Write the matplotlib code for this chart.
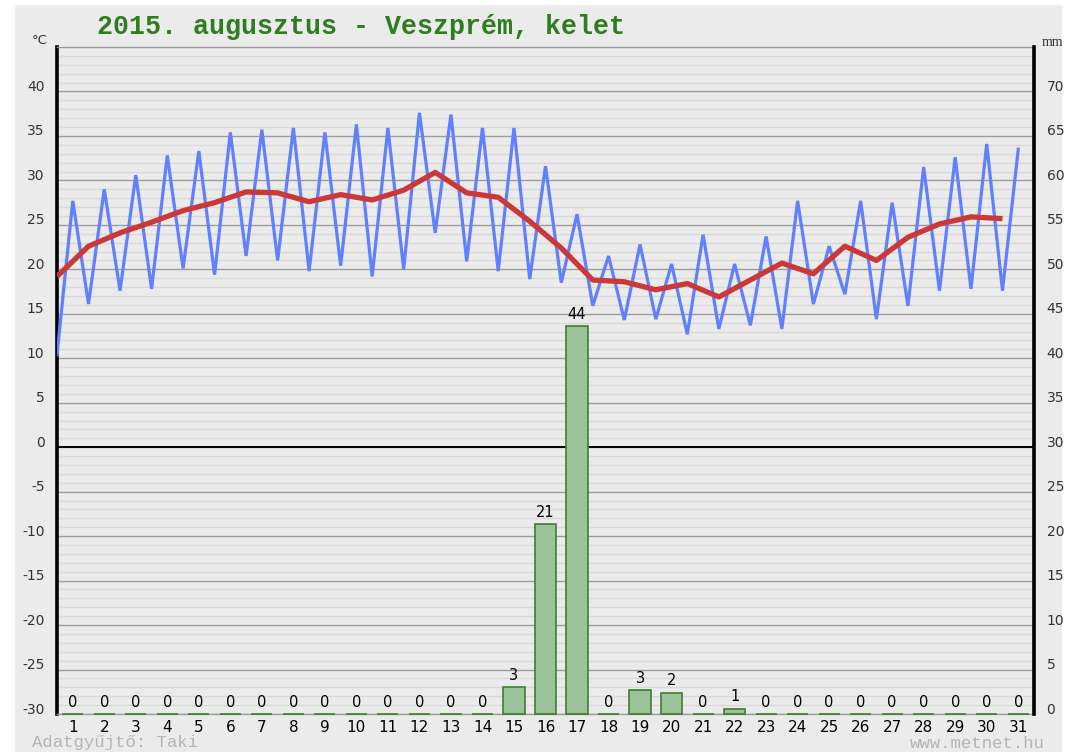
import matplotlib
matplotlib.use('Agg')
import matplotlib.pyplot as plt
from matplotlib.patches import Rectangle
from matplotlib.transforms import ScaledTranslation

plt.rcParams['axes.unicode_minus'] = False

# ---- data ----
days = list(range(1, 32))
t_min = [10.4, 16.1, 17.6, 17.8, 20.1, 19.4, 21.5, 21.0, 19.8, 20.4,
         19.2, 20.0, 24.1, 20.9, 19.8, 18.9, 18.5, 15.9, 14.3, 14.4,
         12.7, 13.3, 13.7, 13.3, 16.1, 17.2, 14.4, 15.9, 17.6, 17.8, 17.6]
t_max = [27.7, 29.0, 30.6, 32.8, 33.3, 35.4, 35.7, 35.9, 35.4, 36.3,
         35.9, 37.6, 37.4, 35.9, 35.9, 31.6, 26.2, 21.5, 22.8, 20.6,
         23.9, 20.6, 23.7, 27.7, 22.6, 27.7, 27.5, 31.5, 32.6, 34.1, 33.5]
t_mean = [19.2, 22.6, 24.1, 25.3, 26.6, 27.5, 28.7, 28.6, 27.6, 28.4,
          27.8, 28.9, 30.9, 28.6, 28.1, 25.4, 22.4, 18.8, 18.6, 17.7,
          18.4, 16.9, 18.8, 20.7, 19.5, 22.6, 21.0, 23.6, 25.1, 25.9, 25.7]
precip = [0, 0, 0, 0, 0, 0, 0, 0, 0, 0, 0, 0, 0, 0, 3.0, 21.4, 43.6, 0,
          2.7, 2.4, 0, 0.6, 0, 0, 0, 0, 0, 0, 0, 0, 0]
temp_ticks = list(range(-30, 41, 5))
mm_ticks = list(range(0, 71, 5))
title = "2015. augusztus - Veszprém, kelet"

W, H = 1075, 752
fig = plt.figure(figsize=(W / 100, H / 100), dpi=100, facecolor='white')
fig.patches.append(Rectangle((15 / W, 0), (1062 - 15) / W, (752 - 5) / H,
                             transform=fig.transFigure, facecolor='#ebebeb',
                             edgecolor='none', zorder=-10))

ax = fig.add_axes([57 / W, 38 / H, 977 / W, 667 / H])
ax.set_facecolor('#ebebeb')
ax.set_xlim(0.5, 31.5)
ax.set_ylim(-30, 45)
ax.set_yticks(temp_ticks)
ax.set_yticks(range(-30, 46), minor=True)
ax.set_axisbelow(True)
ax.grid(which='minor', axis='y', color='#d8d8d8', lw=1.0)
ax.grid(which='major', axis='y', color='#9c9c9c', lw=1.0)
ax.axhline(0, color='black', lw=1.4, zorder=1.5)

# blue min/max zigzag: min at d-0.5, max at d
bx, by = [], []
for d, lo, hi in zip(days, t_min, t_max):
    bx += [d - 0.5, d]
    by += [lo, hi]
ax.plot(bx, by, color='#6080ff', lw=2.3, zorder=3, solid_joinstyle='miter')
ax.plot([d - 0.5 for d in days], t_mean, color='#cc3838', lw=3.8, zorder=4,
        solid_capstyle='butt')

ax.set_xticks(days)
ax.set_xticklabels([str(d) for d in days])
ax.tick_params(axis='x', length=0, pad=4, labelsize=11, labelcolor='black')
ax.tick_params(axis='y', which='both', length=0, pad=9, labelsize=10,
               labelcolor='#333333')
ax.tick_params(axis='y', which='minor', labelleft=False)

for s in ['top', 'bottom']:
    ax.spines[s].set_color('#9c9c9c')
    ax.spines[s].set_linewidth(1.0)
ax.spines['left'].set_color('black')
ax.spines['left'].set_linewidth(2.6)
ax.spines['right'].set_visible(False)

ax2 = ax.twinx()
ax2.set_ylim(0, 75)
ax2.set_yticks(mm_ticks)
ax2.tick_params(axis='y', length=0, pad=9, labelsize=10, labelcolor='#333333')
for s in ['top', 'bottom', 'left']:
    ax2.spines[s].set_visible(False)
ax2.spines['right'].set_color('black')
ax2.spines['right'].set_linewidth(2.6)

bars = ax2.bar(days, precip, width=0.67, color='#9bc29b', edgecolor='#3f7f2c',
               lw=1.2, zorder=2, clip_on=False)
ax2.bar_label(bars, labels=[str(int(round(p))) for p in precip], padding=3,
              fontsize=10.5, color='black')

off = ScaledTranslation(0, 6 / 100, fig.dpi_scale_trans)
for lbl in ax.get_yticklabels() + ax2.get_yticklabels():
    lbl.set_transform(lbl.get_transform() + off)

fig.text(97 / W, 1 - 27 / H, title, fontfamily='Liberation Mono',
         fontweight='bold', fontsize=19.2, color='#2e7d1e', va='center', ha='left')
fig.text(40 / W, 1 - 40 / H, '°C', fontsize=9.5, color='#333333', ha='center', va='center')
fig.text(1052 / W, 1 - 43 / H, 'mm', fontsize=10, color='#333333', ha='center',
         va='center', fontfamily='Liberation Serif')
fig.text(32 / W, 1 - 743 / H, 'Adatgyűjtő: Taki', fontfamily='Liberation Mono',
         fontsize=12.5, color='#b4b4b4', ha='left', va='center')
fig.text(1045 / W, 1 - 743 / H, 'www.metnet.hu', fontfamily='Liberation Mono',
         fontsize=12.5, color='#b4b4b4', ha='right', va='center')

fig.savefig('out.png', dpi=100, facecolor=fig.get_facecolor())
